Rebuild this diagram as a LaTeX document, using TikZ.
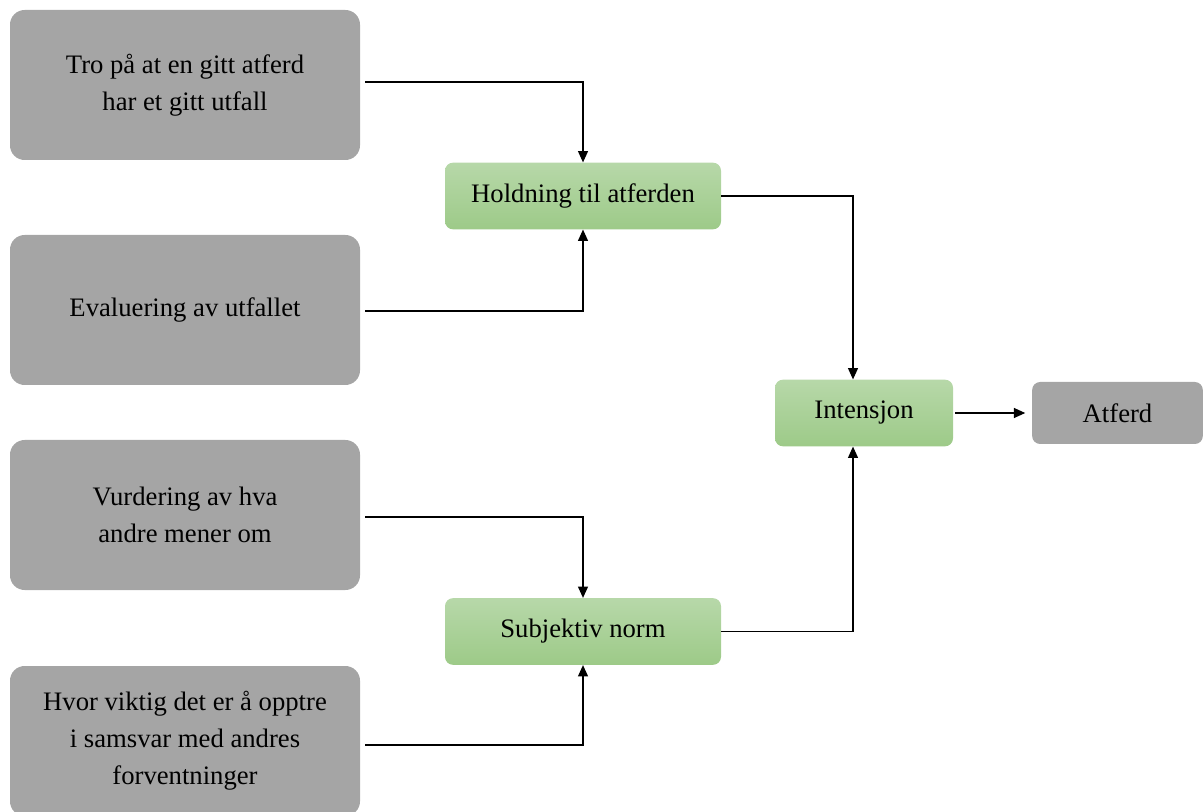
\documentclass[tikz,border=0pt]{standalone}
\usepackage{fontspec}
\setmainfont{Liberation Serif}
\usetikzlibrary{arrows.meta}
\definecolor{boxgray}{HTML}{A5A5A5}
\definecolor{gtop}{HTML}{B7D8A9}
\definecolor{gbot}{HTML}{9DCA88}
\tikzset{
  graybox/.style={fill=boxgray, draw=none, rounded corners=11pt, align=center,
    minimum width=262.5pt, minimum height=112.5pt, inner sep=0pt,
    font=\fontsize{20}{27.75}\selectfont},
  greenbox/.style={top color=gtop, bottom color=gbot, draw=none, rounded corners=6pt,
    align=center, minimum width=207pt, minimum height=50pt, inner sep=0pt,
    font=\fontsize{20}{24}\selectfont},
  conn/.style={draw=black, line width=0.9pt, -{Triangle[length=8.5pt,width=7.5pt]}},
}
\begin{document}
\begin{tikzpicture}[x=0.75pt,y=-0.75pt]
\useasboundingbox (0,0) rectangle (1203,812);
\node[graybox] (g1) at (185,85) {Tro på at en gitt atferd\\har et gitt utfall};
\node[graybox] (g2) at (185,310) {Evaluering av utfallet};
\node[graybox] (g3) at (185,515) {Vurdering av hva\\andre mener om};
\node[graybox] (g4) at (185,741) {Hvor viktig det er å opptre\\i samsvar med andres\\forventninger};
\node[greenbox] (h) at (583,196) {Holdning til atferden};
\node[greenbox] (s) at (583,631.5) {Subjektiv norm};
\node[greenbox, minimum width=133.5pt] (i) at (864,413) {Intensjon};
\node[graybox, rounded corners=6pt, minimum width=128pt, minimum height=46.5pt, font=\fontsize{20}{24}\selectfont] (a) at (1117.5,413) {Atferd};
\coordinate (itop) at ([xshift=-8.25pt]i.north);
\coordinate (ibot) at ([xshift=-8.25pt]i.south);
\draw[conn] ([xshift=3.75pt,yshift=2.25pt]g1.east) -| (h.north);
\draw[conn] ([xshift=3.75pt,yshift=-0.75pt]g2.east) -| (h.south);
\draw[conn] ([xshift=3.75pt,yshift=-1.5pt]g3.east) -| (s.north);
\draw[conn] ([xshift=3.75pt,yshift=-3pt]g4.east) -| (s.south);
\draw[conn] (h.east) -| (itop);
\draw[conn] (s.east) -| (ibot);
\draw[conn] ([xshift=1.5pt]i.east) -- ([xshift=-5pt]a.west);
\end{tikzpicture}
\end{document}
